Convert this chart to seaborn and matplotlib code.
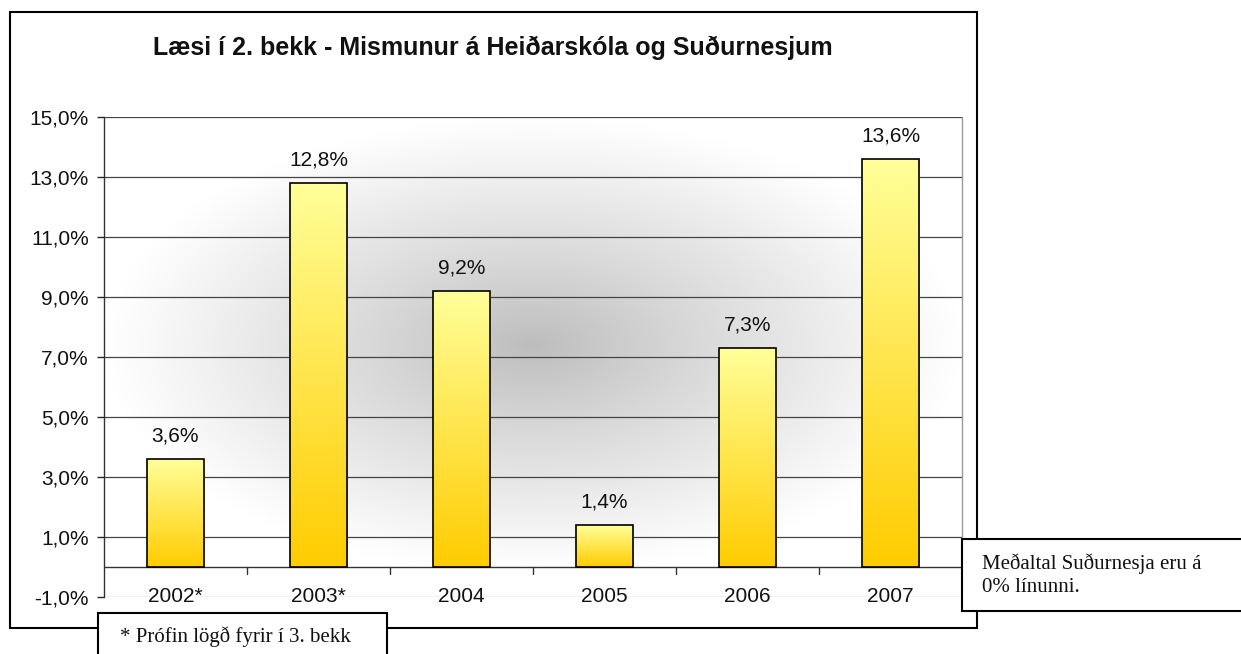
import numpy as np
import pandas as pd
import seaborn as sns
import matplotlib.pyplot as plt
from matplotlib.patches import Rectangle
from matplotlib.colors import LinearSegmentedColormap

# Data
years = ['2002*', '2003*', '2004', '2005', '2006', '2007']
diff_pct = [3.6, 12.8, 9.2, 1.4, 7.3, 13.6]
y_ticks = [-1, 1, 3, 5, 7, 9, 11, 13, 15]

title = 'Læsi í 2. bekk - Mismunur á Heiðarskóla og Suðurnesjum'
footnote = '* Prófin lögð fyrir í 3. bekk'
side_note = 'Meðaltal Suðurnesja eru á\n0% línunni.'

df = pd.DataFrame({'year': years, 'diff': diff_pct})

sns.set_theme(style='white')
plt.rcParams['font.family'] = ['Liberation Sans', 'DejaVu Sans']
serif = ['Liberation Serif', 'DejaVu Serif']

W, H = 1241, 654
fig = plt.figure(figsize=(W / 100, H / 100), dpi=100)
ax = fig.add_axes([104 / W, 1 - 597 / H, 858 / W, 480 / H])


def px_rect(x0, y0, x1, y1, z):
    """rectangle given in pixel coords (top-left origin)"""
    fig.patches.append(Rectangle((x0 / W, 1 - y1 / H), (x1 - x0) / W, (y1 - y0) / H,
                                 transform=fig.transFigure, facecolor='white',
                                 edgecolor='black', linewidth=1.5, zorder=z))


# outer chart frame
fig.patches.append(Rectangle((10 / W, 1 - 628 / H), 967 / W, 616 / H,
                             transform=fig.transFigure, fill=False,
                             edgecolor='black', linewidth=1.5, zorder=0))

# radial grey background of the plot area
gx, gy = np.meshgrid(np.linspace(-1, 1, 300), np.linspace(-1, 1, 300))
r = np.sqrt((gx / 1.0) ** 2 + ((gy + 0.05) / 0.95) ** 2)
shade = np.clip(r, 0, 1) ** 0.9
bg_cmap = LinearSegmentedColormap.from_list('bg', ['#bdbdbd', '#ffffff'])
ax.imshow(shade, cmap=bg_cmap, extent=[0, 1, 0, 1], transform=ax.transAxes,
          aspect='auto', zorder=0, interpolation='bilinear')

sns.barplot(data=df, x='year', y='diff', ax=ax, width=0.4,
            color='#ffdd55', edgecolor='black', linewidth=1.2, zorder=3)

# vertical yellow gradient inside each bar
bar_cmap = LinearSegmentedColormap.from_list('bar', ['#ffcc00', '#ffff99'])
grad = np.linspace(0, 1, 256).reshape(-1, 1)
for p in ax.patches:
    x0, y0 = p.get_x(), p.get_y()
    w, h = p.get_width(), p.get_height()
    im = ax.imshow(grad, cmap=bar_cmap, origin='lower', aspect='auto',
                   extent=[x0, x0 + w, y0, y0 + h], zorder=3.5)
    im.set_clip_path(p)
    p.set_facecolor('none')
    p.set_zorder(4)
    ax.text(x0 + w / 2, y0 + h + 0.78, f'{h:.1f}%'.replace('.', ','),
            ha='center', va='center', fontsize=15, color='#111111', zorder=5)

ax.set_xlim(-0.5, len(years) - 0.5)
ax.set_ylim(-1, 15)
ax.set_yticks(y_ticks)
ax.set_yticklabels([f'{t:.1f}%'.replace('.', ',') for t in y_ticks], fontsize=15,
                   color='#111111')
for t in y_ticks:
    ax.axhline(t, color='#444444' if t > -1 else '#999999', linewidth=0.9, zorder=1)
ax.axhline(0, color='#333333', linewidth=1.0, zorder=2)

# category labels sit on the -1 % line, ticks hang from the zero line
ax.set_xticks([])
ax.set_xlabel('')
ax.set_ylabel('')
for i, yr in enumerate(years):
    ax.text(i, -1, yr, ha='center', va='center', fontsize=15, color='#111111', zorder=5)
    if i > 0:
        ax.plot([i - 0.5, i - 0.5], [0, -0.22], color='#333333', linewidth=1.0, zorder=2)

ax.tick_params(axis='y', length=5, width=1, direction='out', left=True, pad=6)
for side in ['top', 'bottom']:
    ax.spines[side].set_visible(False)
ax.spines['right'].set_color('#999999')
ax.spines['right'].set_linewidth(1.0)
ax.spines['left'].set_color('#333333')
ax.spines['left'].set_linewidth(1.0)

fig.text(493 / W, 1 - 48 / H, title, ha='center', va='center',
         fontsize=18, fontweight='bold', color='#111111')

# text boxes
px_rect(98, 613, 387, 660, 5)
fig.text(120 / W, 1 - 637 / H, footnote, ha='left', va='center', fontsize=15,
         family=serif, color='#111111', zorder=10)
px_rect(962, 539, 1250, 611, 5)
fig.text(982 / W, 1 - 575 / H, side_note, ha='left', va='center', fontsize=15,
         family=serif, color='#111111', zorder=10, linespacing=1.25)

fig.savefig('out.png', dpi=100, facecolor='white')
